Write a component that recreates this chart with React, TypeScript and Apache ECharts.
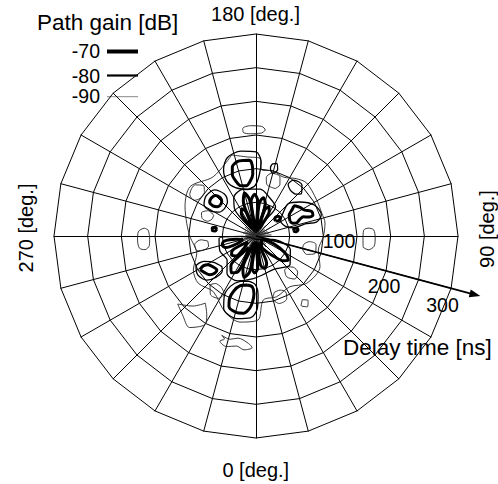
import React, { useEffect, useRef } from 'react';
import * as echarts from 'echarts';

// ---- axes / labels ----
const delayMax = 300;
const spokeCount = 24;
const ringTicks = ['100', '200', '300'];
const degreeLabels = ['180 [deg.]', '0 [deg.]', '270 [deg.]', '90 [deg.]'];
const gainLevels = ['-70', '-80', '-90'];
const arrowAngle = 75;
const arrowEndDelay = 345;

// ---- -70 dB contours: [delay ns, azimuth deg] ----
const g70TopBlob = [[114,190],[113,185],[105,183],[92,183],[82,186],[76,191],[78,197],[86,200],[98,201],[108,199],[114,194],[114,190]];
const g70BottomBlob = [[74,350],[76,356],[86,358],[98,357],[108,355],[116,351],[117,345],[112,339],[100,337],[88,338],[78,342],[74,350]];
const g70LeftOval = [[70,229],[72,225],[78,223],[85,225],[87,230],[85,234],[78,235],[72,233],[70,229]];
const g70LeftDot = [[59,260],[62,258],[66,260],[65,263],[61,263],[59,260]];
const g70RightDot = [[56,98],[59,96],[63,98],[62,101],[58,101],[56,98]];
const g70RightShape = [[55,113],[58,122],[66,126],[73,128],[78,123],[82,118],[90,114],[90,110],[82,110],[76,112],[70,111],[64,108],[58,109],[55,113]];
const g70RightSmall = [[37,128],[40,124],[45,127],[44,132],[40,134],[37,131],[37,128]];
const g70LowLeftOval = [[97,301],[90,299.5],[83,301],[79,305],[77,311],[82,312],[89.6,310],[94,305],[97,301]];
const g70Up1 = [[12,156],[25,151],[42,152],[48,156],[42,161],[25,162],[12,156]];
const g70Up2 = [[8,169],[25,164],[50,164],[58,169],[50,174],[25,175],[8,169]];
const g70Up3 = [[8,182],[25,177],[52,177],[62,182],[52,188],[25,188],[8,182]];
const g70Up4 = [[10,195],[25,190],[55,190],[66,195],[55,200],[25,200],[10,195]];
const g70Up5 = [[12,208],[22,203],[40,203],[46,208],[40,213],[22,213],[12,208]];
const g70Low1 = [[8,358],[25,353],[48,353],[55,358],[48,3],[25,3],[8,358]];
const g70Low2 = [[10,344],[25,338],[52,338],[64,344],[54,350],[25,350],[10,344]];
const g70Low3 = [[20,327],[35,321],[58,320],[66,326],[60,333],[35,334],[20,327]];
const g70Low4 = [[15,308],[28,301],[42,302],[46,308],[42,315],[28,316],[15,308]];
const g70Low5 = [[20,285],[30,279],[48,279],[52,285],[48,291],[30,292],[20,285]];
const g70Low6 = [[10,15],[25,9],[44,9],[50,15],[44,21],[25,22],[10,15]];
const g70Low7 = [[10,55],[22,68],[40,63],[54,58],[60,53],[55,48],[42,42],[28,34],[18,28],[10,55]];

// ---- -80 dB contours ----
const g80TopRing = [[70,190],[75,181],[90,177],[110,176],[125,180],[128,190],[124,200],[110,206],[92,208],[78,203],[70,190]];
const g80BottomRing = [[68,350],[72,359],[88,2],[108,1],[122,356],[126,347],[118,336],[100,332],[84,333],[72,340],[68,350]];
const g80LeftRing = [[62,229],[66,220],[78,217],[92,222],[95,231],[90,239],[76,241],[65,237],[62,229]];
const g80RightRing = [[42,120],[52,130],[68,135],[82,128],[98,118],[102,108],[92,103],[75,104],[58,102],[46,108],[42,120]];
const g80LowLeftRing = [[68,312],[74,302],[86,296],[100,297],[104,304],[98,312],[85,316],[72,316],[68,312]];
const g80UpperCluster = [[5,180],[30,148],[52,146],[60,160],[70,175],[72,195],[66,210],[52,218],[30,220],[5,180]];
const g80LowerCluster = [[5,0],[20,272],[55,274],[58,292],[56,310],[70,322],[72,338],[64,355],[58,12],[56,28],[66,50],[55,68],[25,78],[5,0]];
const g80RightUpper = [[85,137],[92,133],[102,138],[100,146],[90,148],[85,143],[85,137]];
const g80TopSmall = [[97,164],[104,162],[112,164],[110,167],[103,168],[97,166],[97,164]];

// ---- -90 dB contours ----
const g90Outer = [[125.6,196.7],[118,186],[115.5,177.1],[98.4,175.1],[100,165],[96.4,155.4],[104,145],[108.9,136.3],[104.8,120.7],[103.4,109.3],[104.3,100.7],[100,89.4],[94.9,77.3],[105.4,64.4],[103,47],[90.6,33.8],[95.2,18.8],[95.7,6.5],[124.8,1.4],[130,349.5],[121.9,337.8],[104.2,322.5],[110.8,309.3],[105.9,298.5],[91.7,286.3],[98,270.6],[104.6,259.6],[114,247.6],[122.3,233.2],[108.5,215.8],[125.6,196.7]];
const g90TopFar = [[153,177],[152,183],[155,187],[161,187],[164,183],[163,177],[158,175],[153,177]];
const g90BottomFar = [[156,341],[158,346],[154,350],[160,356],[166,358],[170,354],[166,350],[170,345],[165,341],[160,343],[156,341]];
const g90LeftFar = [[160,267],[166,266],[175,268],[176,272],[174,276],[166,277],[159,275],[158,271],[160,267]];
const g90RightFar = [[160,84],[168,83],[176,85],[177,89],[175,93],[167,94],[160,93],[159,88],[160,84]];
const g90Diamond = [[117,36],[123,33],[130,36],[123,39],[117,36]];
const g90LowLeft = [[125,323],[140,318],[154,311],[160,317],[168,324],[152,330],[138,328],[125,323]];
const g90InnerRight = [[72,74],[80,70],[92,74],[90,82],[80,84],[72,80],[72,74]];
const g90InnerLeft = [[72,276],[82,274],[92,278],[90,284],[80,285],[72,282],[72,276]];
const g90InnerLowRight = [[66,40],[76,37],[86,42],[82,49],[72,50],[66,46],[66,40]];
const g90InnerUpLeft = [[70,244],[80,242],[88,247],[84,252],[75,253],[70,249],[70,244]];
const g90UpRight = [[76,158],[84,155],[95,158],[96,166],[88,170],[78,168],[76,158]];
const g90Left = [[100,230],[108,226],[118,230],[116,238],[106,240],[100,236],[100,230]];
const g90LowerLeft = [[92,320],[100,317],[110,322],[108,329],[98,331],[92,326],[92,320]];
const g90LowerRight = [[88,18],[96,15],[106,19],[104,26],[94,28],[88,24],[88,18]];

// central star of converging contour lines
const burstAngles = [0,8,17,25,34,42,51,60,68,77,86,94,103,111,120,128,137,146,154,163,171,180,189,197,206,214,223,231,240,249,257,266,274,283,291,300,309,317,326,334,343,351];
const burstDelays = [22,18,24,20,16,22,19,25,18,21,17,23,20,18,24,16,21,19,23,17,22,20,18,24,19,22,17,21,23,18,20,16,22,19,24,18,21,17,23,20,18,22];

const contours70 = [g70TopBlob, g70BottomBlob, g70LeftOval, g70LeftDot, g70RightDot, g70RightShape, g70RightSmall, g70LowLeftOval, g70Up1, g70Up2, g70Up3, g70Up4, g70Up5, g70Low1, g70Low2, g70Low3, g70Low4, g70Low5, g70Low6, g70Low7];
const contours80 = [g80TopRing, g80BottomRing, g80LeftRing, g80RightRing, g80LowLeftRing, g80UpperCluster, g80LowerCluster, g80RightUpper, g80TopSmall];
const contours90 = [g90Outer, g90TopFar, g90BottomFar, g90LeftFar, g90RightFar, g90Diamond, g90LowLeft, g90InnerRight, g90InnerLeft, g90InnerLowRight, g90InnerUpLeft, g90UpRight, g90Left, g90LowerLeft, g90LowerRight];

const CX = 256;
const CY = 236;
const R = 202;
const FONT = '"Liberation Sans", Arial, Helvetica, sans-serif';

const styles = {
  '-70': { width: 3, color: '#000' },
  '-80': { width: 1.3, color: '#000' },
  '-90': { width: 0.9, color: '#222' },
};

function lineSeries(data: number[][], style: { width: number; color: string }, smooth: number) {
  return {
    type: 'line',
    coordinateSystem: 'polar',
    data,
    symbol: 'none',
    showSymbol: false,
    silent: true,
    smooth,
    clip: false,
    lineStyle: { width: style.width, color: style.color },
  };
}

export default function App() {
  const ref = useRef<HTMLDivElement>(null);
  useEffect(() => {
    if (!ref.current) return;
    const chart = echarts.init(ref.current, undefined, { renderer: 'svg' });

    const burst: number[][] = [];
    burstAngles.forEach((a, i) => {
      burst.push([0, a]);
      burst.push([burstDelays[i], a]);
    });

    const series: any[] = [];
    contours90.forEach((c) => series.push(lineSeries(c, styles['-90'], 0.3)));
    const burstIndex = series.length;
    series.push(lineSeries(burst, { width: 0.6, color: '#333' }, 0));
    contours80.forEach((c) => series.push(lineSeries(c, styles['-80'], 0.3)));
    contours70.forEach((c) => series.push(lineSeries(c, styles['-70'], 0.3)));

    const legendY = [51.5, 75.5, 96.7];
    const legendW = [4, 2.2, 1];
    const legendC = ['#000', '#000', '#888'];
    const legendTextY = [51, 76, 96];

    const graphic: any[] = [
      { type: 'text', x: 37, y: 22, style: { text: 'Path gain [dB]', font: `22.5px ${FONT}`, fill: '#000', align: 'left', verticalAlign: 'middle' } },
      { type: 'text', x: 255.5, y: 13.5, style: { text: degreeLabels[0], font: `20px ${FONT}`, fill: '#000', align: 'center', verticalAlign: 'middle' } },
      { type: 'text', x: 255.8, y: 469.5, style: { text: degreeLabels[1], font: `20px ${FONT}`, fill: '#000', align: 'center', verticalAlign: 'middle' } },
      { type: 'text', x: 26, y: 228, rotation: Math.PI / 2, style: { text: degreeLabels[2], font: `20px ${FONT}`, fill: '#000', align: 'center', verticalAlign: 'middle' } },
      { type: 'text', x: 487, y: 229, rotation: Math.PI / 2, style: { text: degreeLabels[3], font: `20px ${FONT}`, fill: '#000', align: 'center', verticalAlign: 'middle' } },
      { type: 'text', x: 339, y: 241, style: { text: ringTicks[0], font: `19.5px ${FONT}`, fill: '#000', align: 'center', verticalAlign: 'middle' } },
      { type: 'text', x: 384, y: 286, style: { text: ringTicks[1], font: `19.5px ${FONT}`, fill: '#000', align: 'center', verticalAlign: 'middle' } },
      { type: 'text', x: 442.5, y: 305, style: { text: ringTicks[2], font: `19.5px ${FONT}`, fill: '#000', align: 'center', verticalAlign: 'middle' } },
      { type: 'text', x: 343, y: 347.5, style: { text: 'Delay time [ns]', font: `22.5px ${FONT}`, fill: '#000', align: 'left', verticalAlign: 'middle' } },
    ];
    gainLevels.forEach((g, i) => {
      graphic.push({ type: 'text', x: 100, y: legendTextY[i], style: { text: g, font: `19.5px ${FONT}`, fill: '#000', align: 'right', verticalAlign: 'middle' } });
      graphic.push({ type: 'line', shape: { x1: 107, y1: legendY[i], x2: 138, y2: legendY[i] }, style: { stroke: legendC[i], lineWidth: legendW[i] } });
    });

    chart.setOption({
      animation: false,
      backgroundColor: '#fff',
      radar: {
        center: [CX, CY],
        radius: R,
        startAngle: 90,
        splitNumber: 6,
        shape: 'polygon',
        indicator: Array.from({ length: spokeCount }, () => ({ name: '', min: 0, max: delayMax })),
        axisName: { show: false },
        splitArea: { show: false },
        splitLine: { lineStyle: { color: '#000', width: 1 } },
        axisLine: { lineStyle: { color: '#000', width: 1 } },
        axisTick: { show: false },
        axisLabel: { show: false },
        silent: true,
      },
      polar: { center: [CX, CY], radius: R },
      angleAxis: {
        type: 'value', min: 0, max: 360, startAngle: 270, clockwise: false,
        axisLine: { show: false }, axisTick: { show: false }, axisLabel: { show: false }, splitLine: { show: false },
      },
      radiusAxis: {
        type: 'value', min: 0, max: delayMax,
        axisLine: { show: false }, axisTick: { show: false }, axisLabel: { show: false }, splitLine: { show: false },
      },
      series,
      graphic,
    });

    // delay-time axis arrow, positioned through the polar scale
    const base = chart.convertToPixel({ seriesIndex: burstIndex } as any, [0, arrowAngle]) as number[];
    const edge = chart.convertToPixel({ seriesIndex: burstIndex } as any, [delayMax, arrowAngle]) as number[];
    if (base && edge) {
      const k = arrowEndDelay / delayMax;
      const tip = [base[0] + (edge[0] - base[0]) * k, base[1] + (edge[1] - base[1]) * k];
      const dx = tip[0] - base[0];
      const dy = tip[1] - base[1];
      const len = Math.sqrt(dx * dx + dy * dy) || 1;
      const ux = dx / len;
      const uy = dy / len;
      const hl = 11;
      const hw = 4;
      graphic.push({
        type: 'line',
        shape: { x1: base[0], y1: base[1], x2: tip[0] - ux * 6, y2: tip[1] - uy * 6 },
        style: { stroke: '#000', lineWidth: 1.8 },
        z: 10,
      });
      graphic.push({
        type: 'polygon',
        shape: {
          points: [
            [tip[0], tip[1]],
            [tip[0] - ux * hl - uy * hw, tip[1] - uy * hl + ux * hw],
            [tip[0] - ux * hl + uy * hw, tip[1] - uy * hl - ux * hw],
          ],
        },
        style: { fill: '#000' },
        z: 10,
      });
      chart.setOption({ graphic });
    }
    return () => chart.dispose();
  }, []);
  return <div ref={ref} style={{ position: 'fixed', left: 0, top: 0, width: 498, height: 484 }} />;
}
